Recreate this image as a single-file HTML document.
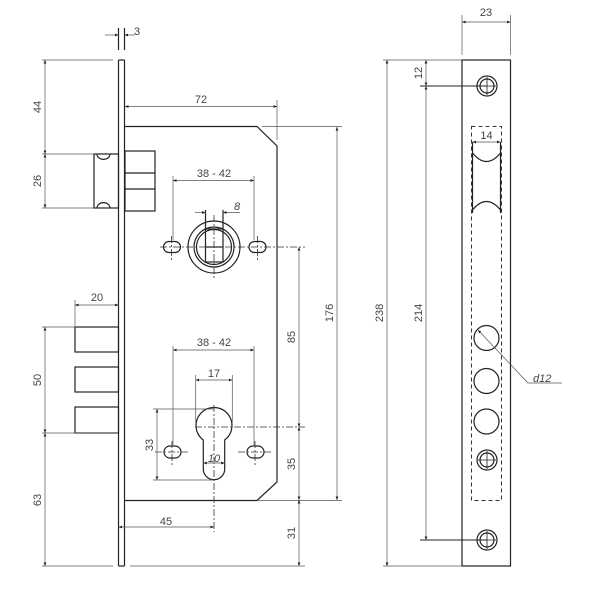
<!DOCTYPE html>
<html><head><meta charset="utf-8"><style>
html,body{margin:0;padding:0;background:#fff;width:600px;height:600px;overflow:hidden}
svg{display:block}
text{font-family:"Liberation Sans",sans-serif;font-size:11px;fill:#444}
</style></head><body>
<svg width="600" height="600" viewBox="0 0 600 600" xmlns="http://www.w3.org/2000/svg">
<defs>
<marker id="a" viewBox="0 0 10 10" refX="10" refY="5" markerWidth="5" markerHeight="5" orient="auto-start-reverse"><path d="M0,1 L10,5 L0,9 z" fill="#222"/></marker>
</defs>
<g fill="none" stroke="#222" stroke-width="1.2">
<line x1="118.5" y1="60" x2="118.5" y2="566"/>
<line x1="124.5" y1="60" x2="124.5" y2="566"/>
<line x1="118.5" y1="60" x2="124.5" y2="60"/>
<line x1="118.5" y1="566" x2="124.5" y2="566"/>
<line x1="118.5" y1="28" x2="118.5" y2="50"/>
<line x1="124.5" y1="28" x2="124.5" y2="50"/>
<polyline points="125,126.5 257,126.5 277,146 277,482 257,500.5 125,500.5"/>
<rect x="94" y="154" width="24.5" height="54"/>
<path d="M97,154 A6,5 0 0 0 110,154 M97,208 A6,5 0 0 1 110,208"/>
<rect x="125" y="151" width="30" height="60"/>
<line x1="125" y1="173" x2="155" y2="173"/>
<line x1="125" y1="189" x2="155" y2="189"/>
<rect x="75" y="327" width="43.5" height="25"/>
<rect x="75" y="367" width="43.5" height="25"/>
<rect x="75" y="407" width="43.5" height="26"/>
<circle cx="214" cy="247" r="26"/>
<circle cx="214" cy="247" r="20"/>
<circle cx="214" cy="247" r="17.5"/>
<rect x="205.5" y="229" width="17.5" height="33"/>
<line x1="205.5" y1="247" x2="223" y2="247"/>
<line x1="205.5" y1="210" x2="205.5" y2="229"/>
<line x1="223" y1="210" x2="223" y2="229"/>
<rect x="163.5" y="241.5" width="17" height="11" rx="5.5"/>
<rect x="249" y="241.5" width="17" height="11" rx="5.5"/>
<path d="M203.3,440 A18,18 0 1 1 224.7,440 L224.7,469 A10.7,10.7 0 0 1 203.3,469 Z"/>
<rect x="164" y="446" width="17" height="12" rx="6"/>
<rect x="247" y="446" width="17" height="12" rx="6"/>
<rect x="462" y="60" width="48.5" height="506"/>
<circle cx="487" cy="86" r="10"/><circle cx="487" cy="86" r="7"/>
<circle cx="487" cy="460" r="10"/><circle cx="487" cy="460" r="7"/>
<circle cx="487" cy="540" r="10"/><circle cx="487" cy="540" r="7"/>
<circle cx="486.5" cy="338" r="12.5"/>
<circle cx="486.5" cy="381" r="12.5"/>
<circle cx="486.5" cy="421.5" r="12.5"/>
<line x1="472.5" y1="142" x2="472.5" y2="213"/>
<line x1="500.5" y1="142" x2="500.5" y2="213"/>
<path d="M472.5,153 Q486.5,170 500.5,153 M472.5,210 Q486.5,193 500.5,210"/>
</g>
<g stroke="#222" stroke-width="0.8">
<path d="M478,86 H496 M487,77 V95 M478,460 H496 M487,451 V469 M478,540 H496 M487,531 V549"/>
</g>
<g fill="none" stroke="#333" stroke-width="1">
<rect x="471.5" y="126.5" width="30" height="374" stroke-dasharray="4,3"/>
<path d="M160,247 H305 M214,215 V280 M171.5,236 V262 M257.5,236 V262 M195,427 H305 M214,405 V532 M155,452 H190 M238,452 H272 M172,441 V465 M255,441 V465" stroke-dasharray="7,2,2,2" stroke-width="0.8"/>
</g>
<g fill="none" stroke="#555" stroke-width="0.7">
<line x1="105" y1="35" x2="118.5" y2="35" marker-end="url(#a)"/>
<line x1="135" y1="35" x2="124.5" y2="35" marker-end="url(#a)"/>
<line x1="125" y1="106.5" x2="277" y2="106.5" marker-start="url(#a)" marker-end="url(#a)"/>
<line x1="277" y1="100" x2="277" y2="140"/>
<line x1="262" y1="126.5" x2="342" y2="126.5"/>
<line x1="257" y1="500.5" x2="342" y2="500.5"/>
<line x1="337" y1="127" x2="337" y2="500" marker-start="url(#a)" marker-end="url(#a)"/>
<line x1="42" y1="60" x2="113" y2="60"/>
<line x1="42" y1="154" x2="94" y2="154"/>
<line x1="42" y1="208" x2="94" y2="208"/>
<line x1="45" y1="60" x2="45" y2="154" marker-start="url(#a)" marker-end="url(#a)"/>
<line x1="45" y1="154" x2="45" y2="208" marker-start="url(#a)" marker-end="url(#a)"/>
<line x1="173" y1="180.5" x2="254" y2="180.5" marker-start="url(#a)" marker-end="url(#a)"/>
<line x1="173" y1="176" x2="173" y2="240"/>
<line x1="254" y1="176" x2="254" y2="240"/>
<line x1="195" y1="212.5" x2="205.5" y2="212.5" marker-end="url(#a)"/>
<line x1="240" y1="212.5" x2="223" y2="212.5" marker-end="url(#a)"/>
<line x1="299" y1="247" x2="299" y2="427" marker-start="url(#a)" marker-end="url(#a)"/>
<line x1="299" y1="427" x2="299" y2="500" marker-start="url(#a)" marker-end="url(#a)"/>
<line x1="299" y1="500" x2="299" y2="566" marker-start="url(#a)" marker-end="url(#a)"/>
<line x1="75" y1="300" x2="75" y2="327"/>
<line x1="75" y1="305" x2="118.5" y2="305" marker-start="url(#a)" marker-end="url(#a)"/>
<line x1="42" y1="327" x2="75" y2="327"/>
<line x1="42" y1="433" x2="118" y2="433"/>
<line x1="45" y1="327" x2="45" y2="433" marker-start="url(#a)" marker-end="url(#a)"/>
<line x1="45" y1="433" x2="45" y2="566" marker-start="url(#a)" marker-end="url(#a)"/>
<line x1="42" y1="566" x2="113" y2="566"/>
<line x1="130" y1="566" x2="305" y2="566"/>
<line x1="173" y1="350" x2="254" y2="350" marker-start="url(#a)" marker-end="url(#a)"/>
<line x1="173" y1="346" x2="173" y2="445"/>
<line x1="254" y1="346" x2="254" y2="445"/>
<line x1="195.7" y1="380" x2="232.3" y2="380" marker-start="url(#a)" marker-end="url(#a)"/>
<line x1="195.7" y1="375" x2="195.7" y2="422"/>
<line x1="232.3" y1="375" x2="232.3" y2="422"/>
<line x1="153" y1="409" x2="214" y2="409"/>
<line x1="153" y1="480" x2="214" y2="480"/>
<line x1="157" y1="409" x2="157" y2="480" marker-start="url(#a)" marker-end="url(#a)"/>
<line x1="203.3" y1="463" x2="224.7" y2="463" marker-start="url(#a)" marker-end="url(#a)"/>
<line x1="118.5" y1="527" x2="214" y2="527" marker-start="url(#a)" marker-end="url(#a)"/>
<line x1="462" y1="15" x2="462" y2="55"/>
<line x1="510.5" y1="15" x2="510.5" y2="55"/>
<line x1="462" y1="22" x2="510.5" y2="22" marker-start="url(#a)" marker-end="url(#a)"/>
<line x1="383" y1="60" x2="462" y2="60"/>
<line x1="383" y1="566" x2="462" y2="566"/>
<line x1="387" y1="60" x2="387" y2="566" marker-start="url(#a)" marker-end="url(#a)"/>
<line x1="420" y1="86" x2="487" y2="86" stroke="#222" stroke-width="1"/>
<line x1="420" y1="540" x2="487" y2="540" stroke="#222" stroke-width="1"/>
<line x1="426" y1="60" x2="426" y2="86" marker-start="url(#a)" marker-end="url(#a)"/>
<line x1="426" y1="86" x2="426" y2="540" marker-start="url(#a)" marker-end="url(#a)"/>
<line x1="472.5" y1="142" x2="500.5" y2="142" marker-start="url(#a)" marker-end="url(#a)"/>
<polyline points="562,383 528,383 478,330" marker-end="url(#a)"/>
</g>
<g>
<text x="134" y="35">3</text>
<text x="201" y="103" text-anchor="middle">72</text>
<text x="214" y="177" text-anchor="middle">38 - 42</text>
<text x="237" y="210" text-anchor="middle" font-style="italic">8</text>
<text x="214" y="346" text-anchor="middle">38 - 42</text>
<text x="214" y="377" text-anchor="middle">17</text>
<text x="214" y="462" text-anchor="middle" font-style="italic" font-size="9">10</text>
<text x="166" y="525" text-anchor="middle">45</text>
<text x="97" y="301" text-anchor="middle">20</text>
<text x="486.5" y="139" text-anchor="middle">14</text>
<text x="486" y="16" text-anchor="middle">23</text>
<text x="533" y="382" font-style="italic">d12</text>
<text transform="translate(41,107) rotate(-90)" text-anchor="middle">44</text>
<text transform="translate(41,181) rotate(-90)" text-anchor="middle">26</text>
<text transform="translate(41,380) rotate(-90)" text-anchor="middle">50</text>
<text transform="translate(41,500) rotate(-90)" text-anchor="middle">63</text>
<text transform="translate(333,313) rotate(-90)" text-anchor="middle">176</text>
<text transform="translate(295,337) rotate(-90)" text-anchor="middle">85</text>
<text transform="translate(295,464) rotate(-90)" text-anchor="middle">35</text>
<text transform="translate(295,533) rotate(-90)" text-anchor="middle">31</text>
<text transform="translate(153,445) rotate(-90)" text-anchor="middle">33</text>
<text transform="translate(383,313) rotate(-90)" text-anchor="middle">238</text>
<text transform="translate(422,313) rotate(-90)" text-anchor="middle">214</text>
<text transform="translate(422,73) rotate(-90)" text-anchor="middle">12</text>
</g>
</svg>
</body></html>
